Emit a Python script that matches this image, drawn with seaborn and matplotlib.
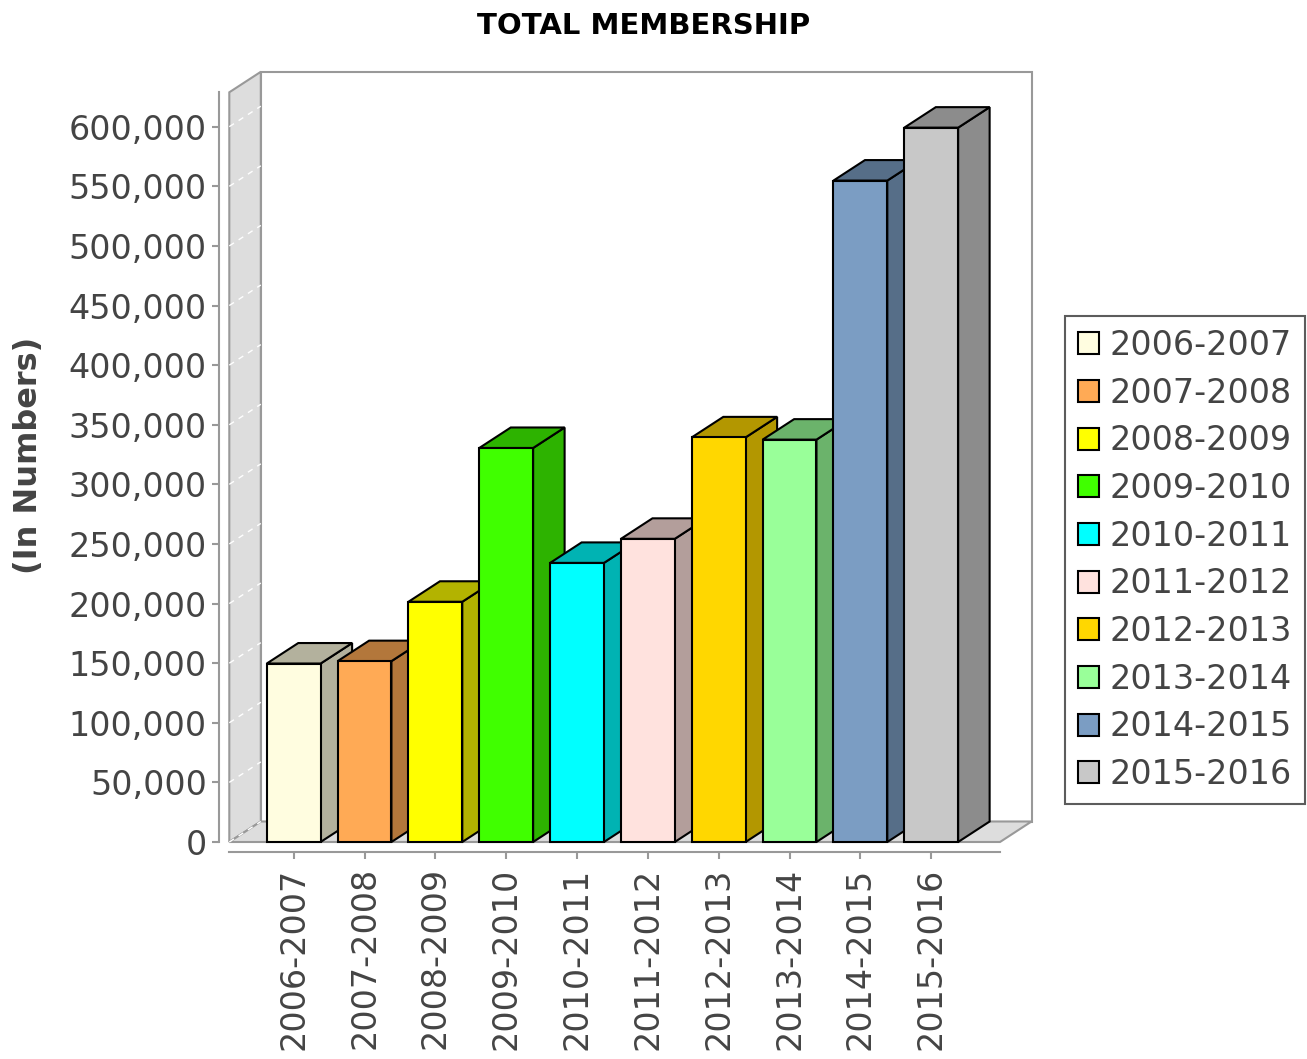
import numpy as np
import pandas as pd
import seaborn as sns
import matplotlib.pyplot as plt
from matplotlib.patches import Polygon, Rectangle
from matplotlib.colors import to_rgb
from matplotlib.ticker import FuncFormatter, MultipleLocator

# Data
seasons = ["2006-2007", "2007-2008", "2008-2009", "2009-2010", "2010-2011",
           "2011-2012", "2012-2013", "2013-2014", "2014-2015", "2015-2016"]
members = [149700, 151700, 201500, 330500, 234100, 254300, 339400, 337500, 554800, 599200]
colors = ["#FFFDE0", "#FFAA55", "#FFFF00", "#40FF00", "#00FFFF",
          "#FFE2DE", "#FFD700", "#99FF99", "#7B9DC3", "#C8C8C8"]
yticks = list(range(0, 600001, 50000))

W, H = 1307, 1059
sns.set_style("ticks")
plt.rcParams['font.family'] = ['DejaVu Sans']

fig = plt.figure(figsize=(W / 100, H / 100), dpi=100)

# front plane of the 3d box (pixels from top-left)
left, right, top, bottom = 229.3, 1000, 92.3, 842
ax = fig.add_axes([left / W, 1 - bottom / H, (right - left) / W, (bottom - top) / H])
ax.patch.set_visible(False)

df = pd.DataFrame({"season": seasons, "members": members})
sns.barplot(data=df, x="season", y="members", hue="season", palette=colors,
            width=0.76, saturation=1, edgecolor="black", linewidth=1.5,
            legend=True, ax=ax)

# grab the front faces before adding anything else
bars = [p for p in ax.patches if isinstance(p, Rectangle) and p.get_height() > 0]
bars = sorted(bars, key=lambda p: p.get_x())

ymax = 628850
x0, x1 = -0.909, 9.971
ax.set_xlim(x0, x1)
ax.set_ylim(0, ymax)

# 3d depth offset in data units
dx = 31.5 * (x1 - x0) / (right - left)
dy = 20.5 * ymax / (bottom - top)

# walls and floor
wall_kw = dict(closed=True, clip_on=False, zorder=0.5, edgecolor="#999999", lw=1.5)
ax.add_patch(Polygon([(x0 + dx, dy), (x1 + dx, dy), (x1 + dx, ymax + dy), (x0 + dx, ymax + dy)],
                     facecolor="white", **wall_kw))
ax.add_patch(Polygon([(x0, 0), (x0 + dx, dy), (x0 + dx, ymax + dy), (x0, ymax)],
                     facecolor="#DDDDDD", **wall_kw))
ax.add_patch(Polygon([(x0, 0), (x1, 0), (x1 + dx, dy), (x0 + dx, dy)],
                     facecolor="#DDDDDD", **wall_kw))
for v in yticks:
    ax.plot([x0, x0 + dx], [v, v + dy], color="white", lw=1, ls=(0, (4, 4)),
            clip_on=False, zorder=0.6)

# extrude the bars
for i, p in enumerate(bars):
    xl, w, h = p.get_x(), p.get_width(), p.get_height()
    shade = tuple(np.array(to_rgb(p.get_facecolor())) * 0.7)
    z = 2 + i * 0.1
    side = Polygon([(xl + w, 0), (xl + w + dx, dy), (xl + w + dx, h + dy), (xl + w, h)],
                   closed=True, facecolor=shade, edgecolor="black", lw=1.5, zorder=z, clip_on=False)
    cap = Polygon([(xl, h), (xl + w, h), (xl + w + dx, h + dy), (xl + dx, h + dy)],
                  closed=True, facecolor=shade, edgecolor="black", lw=1.5, zorder=z, clip_on=False)
    ax.add_patch(side)
    ax.add_patch(cap)
    p.set_zorder(z + 0.01)
    p.set_clip_on(False)

# axes styling
ax.spines[["top", "right"]].set_visible(False)
for s in ["left", "bottom"]:
    ax.spines[s].set_position(("outward", 7.2))
    ax.spines[s].set_color("#999999")
    ax.spines[s].set_linewidth(1.5)
ax.yaxis.set_major_locator(MultipleLocator(50000))
ax.yaxis.set_major_formatter(FuncFormatter(lambda v, pos: f"{v:,.0f}"))
ax.tick_params(axis="both", labelsize=24, color="#999999", labelcolor="#444444",
               length=5, width=1.5, direction="out")
ax.tick_params(axis="y", pad=4)
ax.tick_params(axis="x", pad=6, labelrotation=90)
ax.set_xlabel("")
ax.set_ylabel("")

handles, labels = ax.get_legend_handles_labels()
ax.get_legend().remove()
leg = fig.legend(handles, labels, loc="center left", bbox_to_anchor=(1065 / W, 1 - 560 / H),
                 fontsize=24, frameon=True, fancybox=False, handlelength=0.63,
                 handleheight=0.63, handletextpad=0.3, labelspacing=0.44,
                 borderpad=0.4, borderaxespad=0)
leg.get_frame().set_edgecolor("#333333")
leg.get_frame().set_linewidth(1.5)
for t in leg.get_texts():
    t.set_color("#444444")

fig.text(644 / W, 1 - 26 / H, "TOTAL MEMBERSHIP", ha="center", va="center",
         fontsize=21, fontweight="bold", color="black")
fig.text(29 / W, 1 - 455 / H, "(In Numbers)", ha="center", va="center", rotation=90,
         fontsize=23, fontweight="bold", color="#444444")

fig.savefig("out.png", dpi=100)
